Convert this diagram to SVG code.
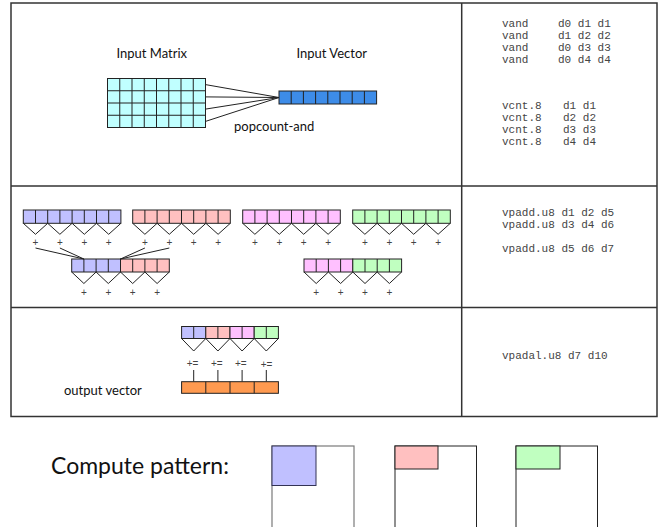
<svg xmlns="http://www.w3.org/2000/svg" width="672" height="527" viewBox="0 0 672 527">
  <style>
    .lbl { font-family: Lato, "Open Sans", "Liberation Sans", sans-serif; fill: #111; }
    .code { font-family: "Liberation Mono", "DejaVu Sans Mono", monospace; font-size: 11px; fill: #444; }
    .op { font-family: "Liberation Sans", "DejaVu Sans", sans-serif; font-size: 10px; fill: #444; text-anchor: middle; }
    .cell { stroke: #222; stroke-width: 1; }
    .div { fill: none; stroke: #222; stroke-width: 1; }
    .zig { fill: none; stroke: #222; stroke-width: 1; stroke-linejoin: miter; }
    .frame { fill: none; stroke: #333; stroke-width: 1.5; }
    .wire { fill: none; stroke: #222; stroke-width: 1; }
    .blue { fill: #c0c0ff; }
    .red { fill: #ffc0c0; }
    .pink { fill: #ffc0ff; }
    .green { fill: #c0ffc0; }
  </style>

  <rect width="672" height="527" fill="#ffffff"/>

  <!-- table frame -->
  <g id="frame">
    <rect class="frame" x="11" y="3" width="646" height="413.5"/>
    <line class="frame" x1="11" y1="186" x2="657" y2="186"/>
    <line class="frame" x1="11" y1="307.5" x2="657" y2="307.5"/>
    <line class="frame" x1="461.7" y1="3" x2="461.7" y2="416.5"/>
  </g>

  <!-- stage 1: popcount-and -->
  <g id="input-matrix">
    <text class="lbl" x="116.5" y="58" font-size="13">Input Matrix</text>
    <rect class="cell" x="107.5" y="78.5" width="98" height="49" fill="#c0ffff"/>
    <path class="div" d="M119.75,78.5V127.5M132,78.5V127.5M144.25,78.5V127.5M156.5,78.5V127.5M168.75,78.5V127.5M181,78.5V127.5M193.25,78.5V127.5M107.5,90.75H205.5M107.5,103H205.5M107.5,115.25H205.5"/>
  </g>

  <g id="input-vector">
    <text class="lbl" x="296.5" y="58" font-size="13">Input Vector</text>
    <rect class="cell" x="279" y="91" width="97.6" height="13" fill="#3d8ce8" stroke="#1a2f55"/>
    <path class="div" stroke="#1a2f55" d="M291.2,91V104M303.4,91V104M315.6,91V104M327.8,91V104M340,91V104M352.2,91V104M364.4,91V104"/>
  </g>

  <text id="popcount-label" class="lbl" x="234" y="130.5" font-size="13">popcount-and</text>

  <g id="code-1">
    <text class="code" x="502" y="27">vand</text><text class="code" x="558" y="27">d0 d1 d1</text>
    <text class="code" x="502" y="39">vand</text><text class="code" x="558" y="39">d1 d2 d2</text>
    <text class="code" x="502" y="51">vand</text><text class="code" x="558" y="51">d0 d3 d3</text>
    <text class="code" x="502" y="63">vand</text><text class="code" x="558" y="63">d0 d4 d4</text>
    <text class="code" x="502" y="109">vcnt.8</text><text class="code" x="563" y="109">d1 d1</text>
    <text class="code" x="502" y="121">vcnt.8</text><text class="code" x="563" y="121">d2 d2</text>
    <text class="code" x="502" y="133">vcnt.8</text><text class="code" x="563" y="133">d3 d3</text>
    <text class="code" x="502" y="145">vcnt.8</text><text class="code" x="563" y="145">d4 d4</text>
  </g>

  <!-- stage 2: pairwise adds -->
  <g id="d1">
    <rect class="cell blue" x="23.3" y="210" width="97.6" height="13.3"/>
    <path class="div" d="M35.5,210V223.3M47.7,210V223.3M59.9,210V223.3M72.1,210V223.3M84.3,210V223.3M96.5,210V223.3M108.7,210V223.3"/>
    <path class="zig" d="M23.3,223.3L35.5,234.3L47.7,223.3L59.9,234.3L72.1,223.3L84.3,234.3L96.5,223.3L108.7,234.3L120.9,223.3"/>
    <text class="op" x="35.5" y="245.5">+</text><text class="op" x="59.9" y="245.5">+</text>
    <text class="op" x="84.3" y="245.5">+</text><text class="op" x="108.7" y="245.5">+</text>
  </g>

  <g id="d2">
    <rect class="cell red" x="132.7" y="210" width="97.6" height="13.3"/>
    <path class="div" d="M144.9,210V223.3M157.1,210V223.3M169.3,210V223.3M181.5,210V223.3M193.7,210V223.3M205.9,210V223.3M218.1,210V223.3"/>
    <path class="zig" d="M132.7,223.3L144.9,234.3L157.1,223.3L169.3,234.3L181.5,223.3L193.7,234.3L205.9,223.3L218.1,234.3L230.3,223.3"/>
    <text class="op" x="144.9" y="245.5">+</text><text class="op" x="169.3" y="245.5">+</text>
    <text class="op" x="193.7" y="245.5">+</text><text class="op" x="218.1" y="245.5">+</text>
  </g>

  <g id="d3">
    <rect class="cell pink" x="242.7" y="210" width="97.6" height="13.3"/>
    <path class="div" d="M254.9,210V223.3M267.1,210V223.3M279.3,210V223.3M291.5,210V223.3M303.7,210V223.3M315.9,210V223.3M328.1,210V223.3"/>
    <path class="zig" d="M242.7,223.3L254.9,234.3L267.1,223.3L279.3,234.3L291.5,223.3L303.7,234.3L315.9,223.3L328.1,234.3L340.3,223.3"/>
    <text class="op" x="254.9" y="245.5">+</text><text class="op" x="279.3" y="245.5">+</text>
    <text class="op" x="303.7" y="245.5">+</text><text class="op" x="328.1" y="245.5">+</text>
  </g>

  <g id="d4">
    <rect class="cell green" x="352.7" y="210" width="97.6" height="13.3"/>
    <path class="div" d="M364.9,210V223.3M377.1,210V223.3M389.3,210V223.3M401.5,210V223.3M413.7,210V223.3M425.9,210V223.3M438.1,210V223.3"/>
    <path class="zig" d="M352.7,223.3L364.9,234.3L377.1,223.3L389.3,234.3L401.5,223.3L413.7,234.3L425.9,223.3L438.1,234.3L450.3,223.3"/>
    <text class="op" x="364.9" y="245.5">+</text><text class="op" x="389.3" y="245.5">+</text>
    <text class="op" x="413.7" y="245.5">+</text><text class="op" x="438.1" y="245.5">+</text>
  </g>

  <g id="d5">
    <rect class="cell blue" x="71.7" y="259" width="48.8" height="13"/>
    <rect class="cell red" x="120.5" y="259" width="48.8" height="13"/>
    <path class="div" d="M83.9,259V272M96.1,259V272M108.3,259V272M132.7,259V272M144.9,259V272M157.1,259V272"/>
    <path class="zig" d="M71.7,272L83.9,283.5L96.1,272L108.3,283.5L120.5,272L132.7,283.5L144.9,272L157.1,283.5L169.3,272"/>
    <text class="op" x="83.9" y="295.5">+</text><text class="op" x="108.3" y="295.5">+</text>
    <text class="op" x="132.7" y="295.5">+</text><text class="op" x="157.1" y="295.5">+</text>
  </g>

  <g id="d6">
    <rect class="cell pink" x="304" y="259" width="48.8" height="13"/>
    <rect class="cell green" x="352.8" y="259" width="48.8" height="13"/>
    <path class="div" d="M316.2,259V272M328.4,259V272M340.6,259V272M365,259V272M377.2,259V272M389.4,259V272"/>
    <path class="zig" d="M304,272L316.2,283.5L328.4,272L340.6,283.5L352.8,272L365,283.5L377.2,272L389.4,283.5L401.6,272"/>
    <text class="op" x="316.2" y="295.5">+</text><text class="op" x="340.6" y="295.5">+</text>
    <text class="op" x="365" y="295.5">+</text><text class="op" x="389.4" y="295.5">+</text>
  </g>

  <g id="connectors">
    <line class="wire" x1="35.5" y1="248" x2="83.9" y2="259"/>
    <line class="wire" x1="59.9" y1="248" x2="83.9" y2="259"/>
    <line class="wire" x1="144.9" y1="248" x2="120.5" y2="259"/>
    <line class="wire" x1="169.3" y1="248" x2="120.5" y2="259"/>
    <line class="wire" x1="205.5" y1="84.6" x2="279" y2="97.5"/>
    <line class="wire" x1="205.5" y1="96.9" x2="279" y2="97.5"/>
    <line class="wire" x1="205.5" y1="109.1" x2="279" y2="97.5"/>
    <line class="wire" x1="205.5" y1="121.4" x2="279" y2="97.5"/>
    <path class="wire" d="M193.7,370V381.7M217.9,370V381.7M242.1,370V381.7M266.3,370V381.7"/>
  </g>

  <g id="code-2">
    <text class="code" x="502" y="216">vpadd.u8  d1 d2 d5</text>
    <text class="code" x="502" y="228">vpadd.u8  d3 d4 d6</text>
    <text class="code" x="502" y="252">vpadd.u8  d5 d6 d7</text>
  </g>

  <!-- stage 3: accumulate -->
  <g id="d7">
    <rect class="cell blue" x="181.6" y="326.5" width="24.2" height="12"/>
    <rect class="cell red" x="205.8" y="326.5" width="24.2" height="12"/>
    <rect class="cell pink" x="230" y="326.5" width="24.2" height="12"/>
    <rect class="cell green" x="254.2" y="326.5" width="24.2" height="12"/>
    <path class="div" d="M193.7,326.5V338.5M217.9,326.5V338.5M242.1,326.5V338.5M266.3,326.5V338.5"/>
    <path class="zig" d="M181.6,338.5L193.7,351L205.8,338.5L217.9,351L230,338.5L242.1,351L254.2,338.5L266.3,351L278.4,338.5"/>
    <text class="op" x="192.5" y="366.5">+=</text><text class="op" x="216.8" y="366.5">+=</text>
    <text class="op" x="240.8" y="366.5">+=</text><text class="op" x="266.5" y="368">+=</text>
  </g>

  <g id="output-vector">
    <rect class="cell" x="181.6" y="381.7" width="96.8" height="11.6" fill="#ff9a50"/>
    <path class="div" d="M205.8,381.7V393.3M230,381.7V393.3M254.2,381.7V393.3"/>
    <text class="lbl" x="64" y="395" font-size="13">output vector</text>
  </g>

  <g id="code-3">
    <text class="code" x="502" y="359">vpadal.u8 d7 d10</text>
  </g>

  <!-- compute pattern -->
  <g id="compute-pattern">
    <text class="lbl" x="51" y="474" font-size="23">Compute pattern:</text>
    <rect x="272" y="446" width="82" height="90" fill="none" stroke="#7a7a7a" stroke-width="1.2"/>
    <rect x="272" y="446" width="44" height="39.5" fill="#c0c0ff" stroke="#333355" stroke-width="1"/>
    <rect x="395" y="446" width="81.5" height="90" fill="none" stroke="#222" stroke-width="1"/>
    <rect x="395" y="446" width="43" height="23" fill="#ffc0c0" stroke="#222" stroke-width="1"/>
    <rect x="516" y="446" width="81.5" height="90" fill="none" stroke="#222" stroke-width="1"/>
    <rect x="516" y="446" width="44" height="23" fill="#c0ffc0" stroke="#222" stroke-width="1"/>
  </g>
</svg>
